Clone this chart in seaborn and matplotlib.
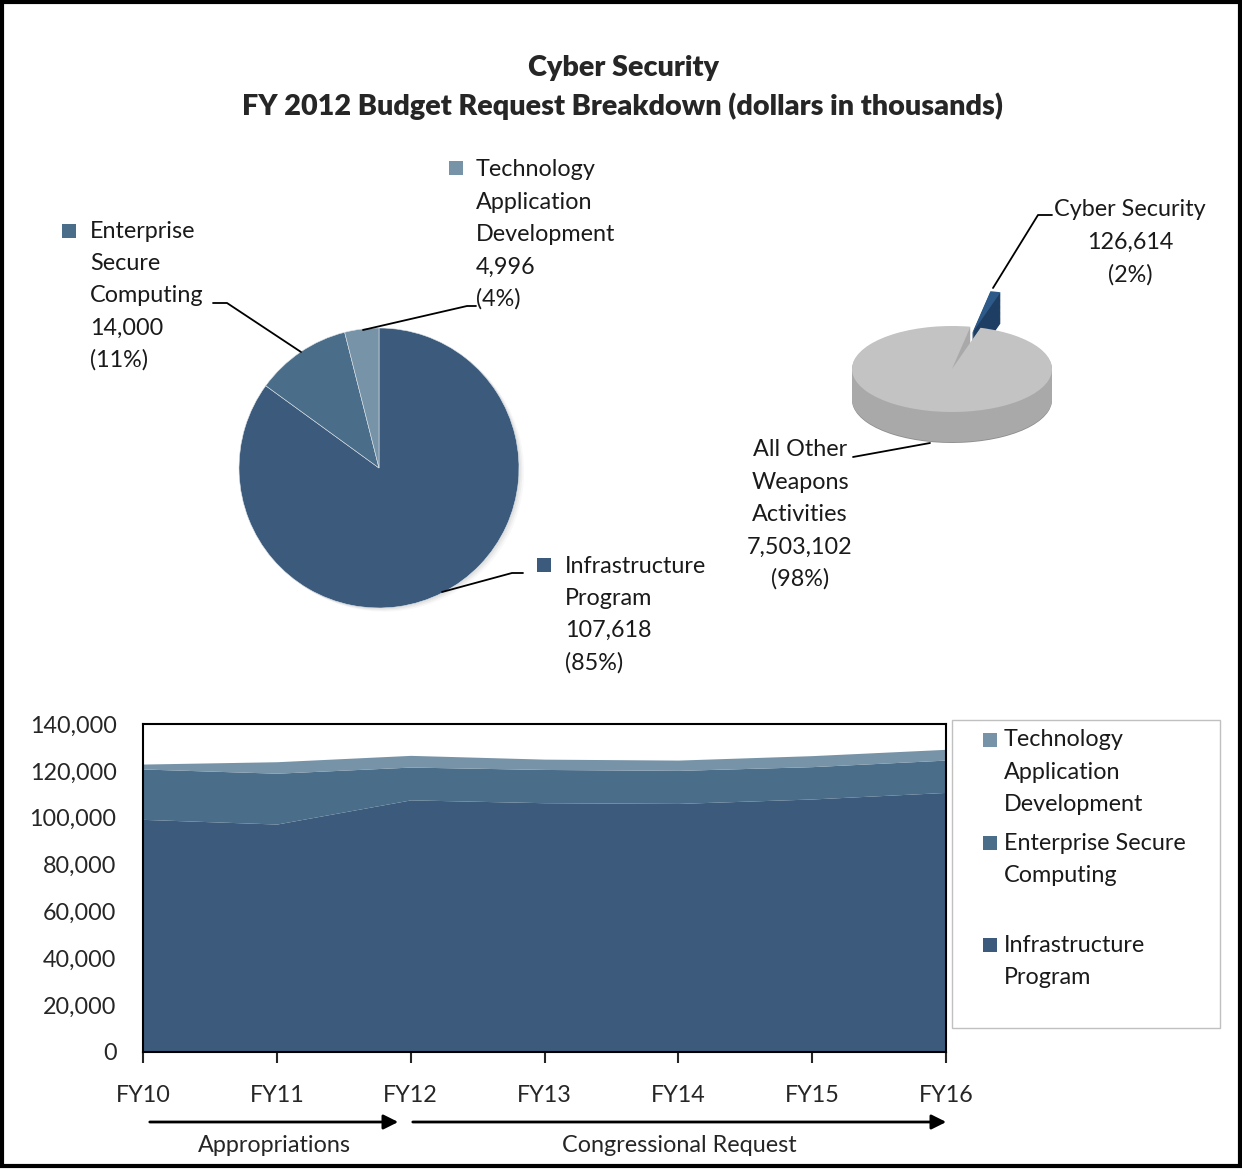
import numpy as np
import pandas as pd
import matplotlib
matplotlib.use('Agg')
import matplotlib.pyplot as plt
from matplotlib.lines import Line2D
from matplotlib.patches import Rectangle, FancyArrowPatch
import seaborn as sns

# data
pie_labels = ['Infrastructure Program', 'Enterprise Secure Computing', 'Technology Application Development']
pie_values = [107618, 14000, 4996]
total_labels = ['Cyber Security', 'All Other Weapons Activities']
total_values = [126614, 7503102]

years = ['FY10', 'FY11', 'FY12', 'FY13', 'FY14', 'FY15', 'FY16']
infra = [99300, 97300, 107618, 106400, 106100, 108000, 110800]
esc = [21500, 21700, 14000, 14200, 14100, 13800, 13800]
tad = [2100, 4900, 4996, 4400, 4400, 4700, 4600]

C_INFRA = '#3b5a7c'
C_ESC = '#4a6d89'
C_TAD = '#7793a8'

sns.set_style('white')
plt.rcParams['font.family'] = ['Lato', 'DejaVu Sans']
FS = 16.8

W, H = 1242, 1169
fig = plt.figure(figsize=(W / 100, H / 100), dpi=100)

def fx(x):
    return x / W

def fy(y):
    return 1 - y / H

def lines_at(lines, x, y0, step=32.3, ha='left'):
    for i, s in enumerate(lines):
        fig.text(fx(x), fy(y0 + i * step), s, ha=ha, va='center', fontsize=FS, color='#1a1a1a')

def seg(pts, lw=1.3):
    xs = [fx(p[0]) for p in pts]
    ys = [fy(p[1]) for p in pts]
    fig.add_artist(Line2D(xs, ys, transform=fig.transFigure, color='black', lw=lw))

def square(x, y, c, s=14):
    fig.add_artist(Rectangle((fx(x), fy(y + s)), s / W, s / H, transform=fig.transFigure,
                             facecolor=c, edgecolor='none'))

# title
fig.text(fx(623), fy(68), 'Cyber Security', ha='center', va='center', fontsize=20.7, fontweight='heavy')
fig.text(fx(623), fy(106), 'FY 2012 Budget Request Breakdown (dollars in thousands)',
         ha='center', va='center', fontsize=20.7, fontweight='heavy')

# %% pie 1 - breakdown
r_px = 140
cx, cy = 379, 468
half = 1.12 * r_px
ax1 = fig.add_axes([fx(cx - half), fy(cy + half), 2 * half / W, 2 * half / H])
for k, a in enumerate([0.10, 0.07, 0.05]):
    ax1.pie(pie_values, colors=['#777777'] * 3, startangle=90, counterclock=False,
            center=(0.012 + 0.012 * k, -0.01 - 0.008 * k), wedgeprops=dict(alpha=a, linewidth=0))
ax1.pie(pie_values, colors=[C_INFRA, C_ESC, C_TAD], startangle=90, counterclock=False,
        wedgeprops=dict(edgecolor='#dfe5ea', linewidth=0.4))
ax1.set_xlim(-1.12, 1.12)
ax1.set_ylim(-1.12, 1.12)
ax1.set_aspect('equal')
ax1.axis('off')

square(449, 161, C_TAD)
lines_at(['Technology', 'Application', 'Development', '4,996', '(4%)'], 476, 170)
seg([(476, 306), (467, 306), (363, 330)])

square(62, 224, C_ESC)
lines_at(['Enterprise', 'Secure', 'Computing', '14,000', '(11%)'], 90, 231)
seg([(213, 303), (227, 303), (301, 352)])

square(537, 558, C_INFRA)
lines_at(['Infrastructure', 'Program', '107,618', '(85%)'], 565, 566)
seg([(523, 573), (512, 573), (442, 592)])

# %% pie 2 - share of weapons activities (3D-ish)
px_per_x = 100
px_per_y = 43
pcx, pcy = 952, 369
ylo, yhi = -2.0, 3.0
ax2 = fig.add_axes([fx(pcx - 1.1 * px_per_x), fy(pcy - ylo * px_per_y),
                    2.2 * px_per_x / W, (yhi - ylo) * px_per_y / H])
thick = 0.72
offs = np.linspace(thick, 0.02, 36)
for i, off in enumerate(offs):
    g = '#8d8d8d' if i == 0 else '#a9a9a9'
    ax2.pie(total_values, colors=['#1e3f63', g], startangle=73.4, explode=[0.85, 0],
            center=(0, -off), wedgeprops=dict(linewidth=0))
ax2.pie(total_values, colors=['#2d5a88', '#c3c3c3'], startangle=73.4, explode=[0.85, 0],
        wedgeprops=dict(linewidth=0))
ax2.set_xlim(-1.1, 1.1)
ax2.set_ylim(ylo, yhi)
ax2.set_aspect('auto')
ax2.axis('off')

lines_at(['Cyber Security', '126,614', '(2%)'], 1130, 210, ha='center')
seg([(1052, 215), (1038, 215), (993, 288)])
lines_at(['All Other', 'Weapons', 'Activities', '7,503,102', '(98%)'], 800, 450, ha='center')
seg([(853, 457), (930, 443)])

# %% stacked area by year
ax3 = fig.add_axes([fx(143), fy(1052), (946 - 143) / W, (1052 - 724) / H])
x = np.arange(len(years))
ax3.stackplot(x, infra, esc, tad, colors=[C_INFRA, C_ESC, C_TAD], linewidth=0)
ax3.set_xlim(0, len(years) - 1)
ax3.set_ylim(0, 140000)
ax3.set_yticks(range(0, 140001, 20000))
ax3.set_yticklabels([f'{v:,}' for v in range(0, 140001, 20000)], fontsize=FS)
ax3.set_xticks(x)
ax3.set_xticklabels(years, fontsize=FS)
ax3.tick_params(axis='y', length=0, pad=19)
ax3.tick_params(axis='x', direction='out', length=8, width=1.5, pad=16, bottom=True)
for sp in ax3.spines.values():
    sp.set_visible(True)
    sp.set_color('black')
    sp.set_linewidth(1.5)

# legend box
fig.add_artist(Rectangle((fx(952), fy(1028)), (1220 - 952) / W, (1028 - 720) / H,
                         transform=fig.transFigure, fill=False, edgecolor='#c0c0c0', lw=1))
square(983, 733, C_TAD)
lines_at(['Technology', 'Application', 'Development'], 1004, 740)
square(983, 836, C_ESC)
lines_at(['Enterprise Secure', 'Computing'], 1004, 843)
square(983, 938, C_INFRA)
lines_at(['Infrastructure', 'Program'], 1004, 945)

# arrows
for a, b in [(147, 401), (410, 949)]:
    fig.add_artist(FancyArrowPatch((fx(a), fy(1122)), (fx(b), fy(1122)), transform=fig.transFigure,
                                   arrowstyle='-|>', mutation_scale=22, lw=2, color='black'))
fig.text(fx(274), fy(1146), 'Appropriations', ha='center', va='center', fontsize=FS)
fig.text(fx(679), fy(1146), 'Congressional Request', ha='center', va='center', fontsize=FS)

# outer frame
fig.add_artist(Rectangle((fx(2), fy(1166)), (1238) / W, (1164) / H, transform=fig.transFigure,
                         fill=False, edgecolor='black', lw=3))

fig.savefig('out.png', dpi=100)
